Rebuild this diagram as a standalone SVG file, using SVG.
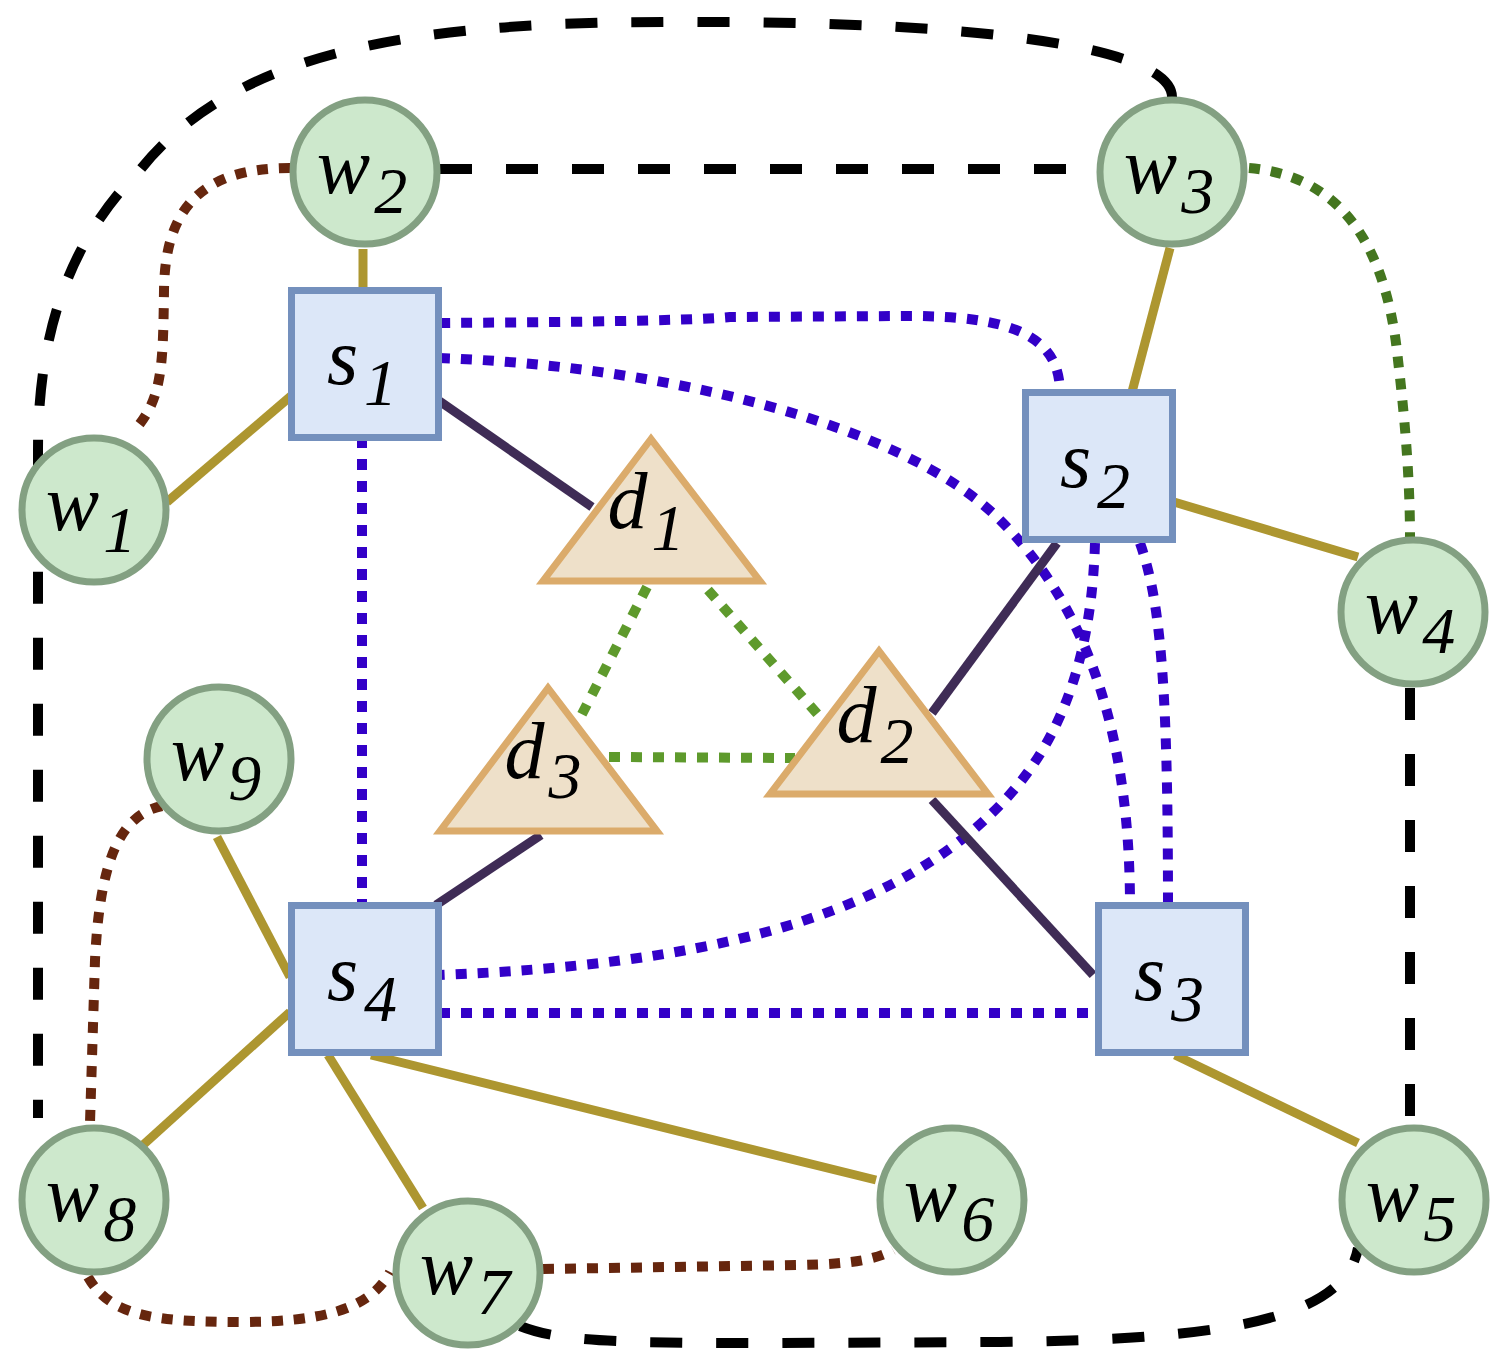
<svg xmlns="http://www.w3.org/2000/svg" width="1498" height="1362" viewBox="0 0 1498 1362">
<style>
.e{fill:none}
.olive{stroke:#ad9630;stroke-width:9}
.purp{stroke:#3f2c56;stroke-width:9}
.blue{stroke:#3300c8;stroke-width:10;stroke-dasharray:11 11}
.green{stroke:#5e9a2c;stroke-width:10;stroke-dasharray:11 11}
.dgreen{stroke:#44761f;stroke-width:10;stroke-dasharray:11 11}
.brown{stroke:#66260e;stroke-width:10;stroke-dasharray:11 11}
.black{stroke:#000000;stroke-width:10;stroke-dasharray:32 34}
.w circle{fill:#cde8cc;stroke:#83a082;stroke-width:7}
.s rect{fill:#dce7f8;stroke:#7490bd;stroke-width:7}
.d polygon{fill:#eee0c9;stroke:#dbab6b;stroke-width:7}
text{font-family:'Liberation Serif',serif;font-style:italic;font-size:80px;fill:#000000;text-anchor:middle}
.sub{font-size:66px}
</style>
<rect x="0" y="0" width="1498" height="1362" fill="#ffffff"/>
<g id="connectors">
  <path class="e black" d="M1172,97 C1172,50 1000,22 700,22 C430,20 240,45 140,170 C60,250 38,350 38,450 L38,1118"/>
  <path class="e black" d="M440,169 L1097,169"/>
  <path class="e black" d="M1410,688 L1410,1125"/>
  <path class="e black" d="M520,1326 C560,1342 620,1343 780,1343 L1000,1342 C1220,1340 1345,1320 1358,1248"/>
  <path class="e brown" d="M290,168 C200,168 165,210 164,290 C163,370 162,400 133,432"/>
  <path class="e brown" d="M162,806 C120,815 100,860 95,960 L90,1123"/>
  <path class="e brown" d="M88,1277 C110,1315 150,1322 240,1322 C320,1322 370,1310 390,1272"/>
  <path class="e brown" d="M543,1269 L800,1265 C850,1264 875,1260 893,1250"/>
  <path class="e dgreen" d="M1249,168 C1330,175 1385,230 1398,360 C1405,420 1410,480 1410,537"/>
  <path class="e blue" d="M362,437 L362,906"/>
  <path class="e blue" d="M439,323 C600,322 700,320 730,317 L910,316 C1010,316 1060,335 1060,393"/>
  <path class="e blue" d="M439,358 C650,365 900,420 1000,520 C1080,600 1130,720 1130,906"/>
  <path class="e blue" d="M1095,543 C1092,640 1070,740 990,815 C880,920 700,965 439,975"/>
  <path class="e blue" d="M1140,543 C1160,600 1168,680 1168,906"/>
  <path class="e blue" d="M439,1013 L1098,1013"/>
  <path class="e green" d="M647,587 L580,718"/>
  <path class="e green" d="M708,590 L821,718"/>
  <path class="e green" d="M609,757 L795,758"/>
  <path class="e olive" d="M363,249 L363,290"/>
  <path class="e olive" d="M167,502 L291,396"/>
  <path class="e olive" d="M1170,248 L1132,392"/>
  <path class="e olive" d="M1174,502 L1358,557"/>
  <path class="e olive" d="M217,837 L290,977"/>
  <path class="e olive" d="M290,1012 L143,1145"/>
  <path class="e olive" d="M328,1055 L423,1208"/>
  <path class="e olive" d="M371,1055 L876,1180"/>
  <path class="e olive" d="M1175,1055 L1358,1143"/>
  <path class="e purp" d="M435,398 L592,507"/>
  <path class="e purp" d="M932,713 L1057,543"/>
  <path class="e purp" d="M932,800 L1093,975"/>
  <path class="e purp" d="M541,835 L436,905"/>
</g>
<g id="w1" class="w"><circle cx="94" cy="510" r="72"/><text x="91" y="530">w<tspan class="sub" dx="4" dy="22">1</tspan></text></g>
<g id="w2" class="w"><circle cx="365" cy="172" r="72"/><text x="362" y="193">w<tspan class="sub" dx="4" dy="20">2</tspan></text></g>
<g id="w3" class="w"><circle cx="1172" cy="172" r="72"/><text x="1169" y="193">w<tspan class="sub" dx="4" dy="20">3</tspan></text></g>
<g id="w4" class="w"><circle cx="1413" cy="612" r="72"/><text x="1410" y="633">w<tspan class="sub" dx="4" dy="20">4</tspan></text></g>
<g id="w5" class="w"><circle cx="1414" cy="1200" r="72"/><text x="1411" y="1221">w<tspan class="sub" dx="4" dy="20">5</tspan></text></g>
<g id="w6" class="w"><circle cx="952" cy="1200" r="72"/><text x="949" y="1221">w<tspan class="sub" dx="4" dy="20">6</tspan></text></g>
<g id="w7" class="w"><circle cx="468" cy="1273" r="72"/><text x="465" y="1294">w<tspan class="sub" dx="4" dy="20">7</tspan></text></g>
<g id="w8" class="w"><circle cx="94" cy="1200" r="72"/><text x="91" y="1221">w<tspan class="sub" dx="4" dy="20">8</tspan></text></g>
<g id="w9" class="w"><circle cx="219" cy="759" r="72"/><text x="216" y="780">w<tspan class="sub" dx="4" dy="20">9</tspan></text></g>
<g id="s1" class="s"><rect x="291.5" y="290.5" width="147" height="147"/><text x="362" y="384">s<tspan class="sub" dx="6" dy="21">1</tspan></text></g>
<g id="s2" class="s"><rect x="1025.5" y="392.5" width="147" height="147"/><text x="1095" y="487">s<tspan class="sub" dx="6" dy="21">2</tspan></text></g>
<g id="s3" class="s"><rect x="1098.5" y="905.5" width="147" height="147"/><text x="1169" y="1000">s<tspan class="sub" dx="6" dy="21">3</tspan></text></g>
<g id="s4" class="s"><rect x="291.5" y="905.5" width="147" height="147"/><text x="362" y="1000">s<tspan class="sub" dx="6" dy="21">4</tspan></text></g>
<g id="d1" class="d"><polygon points="651,439 543,581 760,581"/><text x="646" y="528">d<tspan class="sub" dx="4" dy="22">1</tspan></text></g>
<g id="d2" class="d"><polygon points="879,651 770,794 988,794"/><text x="875" y="742">d<tspan class="sub" dx="4" dy="21">2</tspan></text></g>
<g id="d3" class="d"><polygon points="548,688 440,831 657,831"/><text x="543" y="778">d<tspan class="sub" dx="4" dy="20">3</tspan></text></g>
</svg>
